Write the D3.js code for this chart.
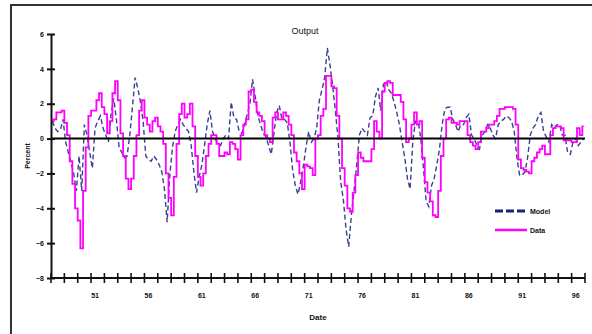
<!DOCTYPE html>
<html>
<head>
<meta charset="utf-8">
<script src="https://cdn.jsdelivr.net/npm/d3@7"></script>
<style>
  html, body { margin: 0; padding: 0; background: #fff; }
  svg { display: block; }
  text { font-family: "Liberation Sans", Arial, sans-serif; fill: #111; }
</style>
</head>
<body>
<svg id="chart" width="592" height="334"></svg>
<script>
// Quarterly output growth, 1947Q1 - 1996Q4 (percent)
const startYear = 1947;
const quarterCount = 200;

const dataSeries = [
  1.0, 1.1, 1.5, 1.5, 1.6, 0.9, 0.2, -1.3, -2.6, -4.0,
  -4.7, -6.3, -3.0, -0.5, 1.3, 1.6, 1.6, 2.2, 2.6, 1.8,
  1.4, 0.3, 1.0, 2.6, 3.3, 2.2, 0.3, -1.0, -2.3, -2.9,
  -2.3, -1.0, 0.2, 1.6, 2.2, 1.2, 0.8, 0.4, 1.0, 1.2,
  0.7, 0.4, -0.3, -2.0, -3.4, -4.4, -2.2, -0.3, 1.4, 2.0,
  1.2, 1.4, 2.0, 0.7, -1.0, -2.2, -2.7, -2.0, -1.0, -0.3,
  0.2, 0.2, -0.3, -1.0, -1.0, -0.8, -0.9, -0.2, -0.3, -0.6,
  -1.2, 0.2, 0.8, 1.1, 2.7, 2.8, 2.1, 1.5, 1.3, 1.0,
  0.2, 0.0, -0.2, 1.2, 1.5, 1.1, 1.1, 1.5, 1.3, 0.8,
  0.2, -0.8, -1.3, -2.0, -2.9, -1.5, -1.6, -1.7, -2.1, 0.0,
  0.2, 1.3, 1.7, 3.6, 3.6, 3.0, 2.9, 1.3, 0.0, -1.7,
  -2.7, -4.0, -4.2, -3.1, -2.1, -0.8, -1.1, -1.3, -1.3, -1.3,
  -0.6, 1.0, 0.4, 0.0, 2.7, 3.2, 3.3, 3.2, 2.5, 2.5,
  2.5, 2.1, 1.1, -0.2, 0.0, 0.8, 1.5, 0.8, 1.0, -1.1,
  -2.5, -3.1, -3.6, -4.4, -4.5, -3.0, -1.0, 0.0, 1.1, 1.2,
  0.9, 0.9, 0.8, 1.0, 1.0, 1.0, 0.2, -0.2, -0.4, -0.6,
  -0.2, 0.4, 0.4, 0.6, 0.8, 0.8, 1.0, 1.3, 1.7, 1.7,
  1.8, 1.8, 1.8, 1.7, 0.8, -1.2, -1.7, -1.8, -1.9, -2.0,
  -1.3, -1.1, -0.8, -0.6, -0.4, -0.9, -0.9, 0.2, 0.6, 0.7,
  0.7, 0.6, -0.1, -0.1, -0.1, -0.2, -0.2, 0.6, 0.2, 0.7
];

const modelSeries = [
  1.0, 0.6, 0.4, 0.5, 1.1, -0.2, -0.8, -1.4, -2.0, -3.0,
  -1.0, -3.0, 0.8, 0.2, -0.8, -1.7, 0.6, 1.0, 1.3, 0.6,
  0.2, -0.2, 1.4, 2.3, 1.1, -0.5, -0.8, -1.1, -1.0, 0.2,
  1.8, 3.5, 2.9, 2.1, 1.0, -1.0, -1.2, -1.3, -1.0, -1.2,
  -1.5, -1.9, -2.9, -4.8, -2.1, -0.5, 0.4, 0.8, 1.1, 0.8,
  0.6, 0.4, -0.4, -1.9, -3.1, -2.2, -1.5, -0.4, 0.8, 1.6,
  0.4, 0.0, -0.3, -0.4, 0.0, 0.2, 0.0, 2.1, 1.2, 1.1,
  0.4, 0.3, 0.8, 1.4, 2.0, 3.4, 2.4, 1.3, 0.8, 0.3,
  0.1, -0.4, -0.9, 0.3, 1.5, 1.9, 1.1, 1.1, 0.9, -0.2,
  -1.8, -2.7, -3.2, -2.5, -1.6, -0.5, 0.4, -0.2, 0.0, 0.6,
  2.2, 2.8, 3.5, 5.2, 4.2, 3.0, 1.6, 0.0, -2.5, -3.5,
  -5.2, -6.2, -4.4, -3.0, -1.5, 0.2, 0.6, 0.4, 0.2, 1.2,
  1.3, 2.4, 2.9, 1.6, 3.1, 3.3, 2.8, 2.6, 2.1, 1.5,
  0.8, -0.2, -1.1, -2.3, -2.9, -0.2, 1.0, 1.0, 0.0, -1.7,
  -3.6, -3.9, -2.7, -2.3, -1.5, -0.6, 0.8, 1.7, 1.8, 1.8,
  1.1, 0.8, 0.4, 0.8, 0.8, 1.2, 1.4, 0.2, 0.0, -0.4,
  -0.6, 0.2, 0.4, 0.8, 0.6, 0.2, 0.0, 0.8, 1.0, 1.1,
  1.3, 1.2, 1.0, 0.4, -1.1, -2.1, -2.1, -1.9, -1.1, 0.2,
  0.6, 0.8, 1.3, 1.5, 0.4, 0.1, -0.2, 0.8, 0.6, 0.8,
  0.8, 0.2, 0.2, -0.8, -0.9, -0.2, 0.0, -0.4, -0.2, 0.0
];

const yTickValues = [6, 4, 2, 0, -2, -4, -6, -8];
const xTickLabels = ["51", "56", "61", "66", "71", "76", "81", "86", "91", "96"];
const legendNames = ["Model", "Data"];

const svg = d3.select("#chart");

// Outer chart frame (extends past the right and bottom edges)
svg.append("rect")
  .attr("x", 11).attr("y", 5)
  .attr("width", 600).attr("height", 340)
  .attr("fill", "none")
  .attr("stroke", "#333")
  .attr("stroke-width", 2);

const plot = { left: 51, right: 585, top: 34, bottom: 278 };

const x = d3.scaleLinear().domain([0, quarterCount]).range([plot.left, plot.right]);
const y = d3.scaleLinear().domain([-8, 6]).range([plot.bottom, plot.top]);

// Title
svg.append("text")
  .attr("x", 305).attr("y", 34)
  .attr("text-anchor", "middle")
  .attr("font-size", 9)
  .text("Output");

// Series lines
const modelLine = d3.line()
  .x((d, i) => x(i + 0.5))
  .y(d => y(d));

const dataLine = d3.line()
  .x((d, i) => x(i + 0.5))
  .y(d => y(d))
  .curve(d3.curveStep);

svg.append("path")
  .datum(modelSeries)
  .attr("d", modelLine)
  .attr("fill", "none")
  .attr("stroke", "#3a4090")
  .attr("stroke-width", 1.4)
  .attr("stroke-dasharray", "5,3");

svg.append("path")
  .datum(dataSeries)
  .attr("d", dataLine)
  .attr("fill", "none")
  .attr("stroke", "#ff00ff")
  .attr("stroke-width", 1.8);

// Zero reference line
svg.append("line")
  .attr("x1", plot.left).attr("x2", plot.right)
  .attr("y1", y(0)).attr("y2", y(0))
  .attr("stroke", "#000")
  .attr("stroke-width", 2);

// Y axis
const yAxis = d3.axisLeft(y)
  .tickValues(yTickValues)
  .tickSize(0)
  .tickPadding(7)
  .tickFormat(d3.format("d"));

const yg = svg.append("g")
  .attr("transform", `translate(${plot.left},0)`)
  .call(yAxis);
yg.select(".domain").attr("stroke", "#111").attr("stroke-width", 2);
yg.selectAll(".tick text")
  .attr("font-size", 7)
  .attr("font-weight", "bold")
  .attr("font-family", "Liberation Sans, Arial, sans-serif")
  .attr("fill", "#222");
yg.selectAll(".tick").append("line")
  .attr("x1", -4).attr("x2", 4)
  .attr("stroke", "#111")
  .attr("stroke-width", 2);

// X axis: tick marks every 5 quarters, year labels every 20 quarters
const xTickPositions = d3.range(0, quarterCount + 1, 5);
const xg = svg.append("g")
  .attr("transform", `translate(0,${plot.bottom})`);
xg.append("line")
  .attr("x1", plot.left).attr("x2", plot.right)
  .attr("stroke", "#111")
  .attr("stroke-width", 2);
xg.selectAll("line.tick")
  .data(xTickPositions)
  .join("line")
  .attr("class", "tick")
  .attr("x1", d => x(d)).attr("x2", d => x(d))
  .attr("y1", -5).attr("y2", 5)
  .attr("stroke", "#111")
  .attr("stroke-width", 1.6);
xg.selectAll("text.label")
  .data(xTickLabels)
  .join("text")
  .attr("class", "label")
  .attr("x", d => x((1900 + +d - startYear) * 4 + 0.5))
  .attr("y", 20)
  .attr("text-anchor", "middle")
  .attr("font-size", 7)
  .attr("font-weight", "bold")
  .attr("fill", "#222")
  .text(d => d);

// Axis titles
svg.append("text")
  .attr("x", 318).attr("y", 320)
  .attr("text-anchor", "middle")
  .attr("font-size", 8)
  .attr("font-weight", "bold")
  .text("Date");

svg.append("text")
  .attr("transform", "translate(30,156) rotate(-90)")
  .attr("text-anchor", "middle")
  .attr("font-size", 7)
  .attr("font-weight", "bold")
  .text("Percent");

// Legend
const legend = svg.append("g").attr("transform", "translate(495,211)");
const legendStyles = [
  { stroke: "#1a1f80", width: 3, dash: "8,3" },
  { stroke: "#ff00ff", width: 2.5, dash: null }
];
legendNames.forEach((name, i) => {
  const row = legend.append("g").attr("transform", `translate(0,${i * 19})`);
  row.append("line")
    .attr("x1", 0).attr("x2", 32)
    .attr("stroke", legendStyles[i].stroke)
    .attr("stroke-width", legendStyles[i].width)
    .attr("stroke-dasharray", legendStyles[i].dash);
  row.append("text")
    .attr("x", 35).attr("y", 2.5)
    .attr("font-size", 7)
    .attr("font-weight", "bold")
    .text(name);
});
</script>
</body>
</html>
